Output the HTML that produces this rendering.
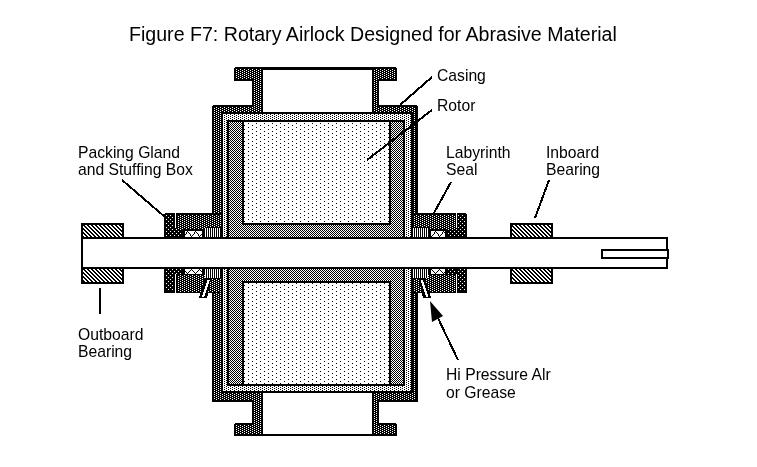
<!DOCTYPE html>
<html><head><meta charset="utf-8"><style>
html,body{margin:0;padding:0;background:#fff;width:757px;height:467px;overflow:hidden}
svg{display:block}
svg text{will-change:transform}
text{font-family:"Liberation Sans",sans-serif;fill:#000}
</style></head><body>
<svg width="757" height="467" viewBox="0 0 757 467" shape-rendering="crispEdges">
<defs>
<pattern id="dark" width="4" height="2" patternUnits="userSpaceOnUse"><rect width="4" height="2" fill="#000"/><rect x="0" y="1" width="1" height="1" fill="#fff"/><rect x="2" y="0" width="1" height="1" fill="#fff"/></pattern>
<pattern id="liner" width="4" height="2" patternUnits="userSpaceOnUse"><rect width="4" height="2" fill="#fff"/><rect x="0" y="1" width="1" height="1" fill="#000"/><rect x="2" y="0" width="1" height="1" fill="#000"/></pattern>
<pattern id="sparse" width="4" height="4" patternUnits="userSpaceOnUse"><rect width="4" height="4" fill="#000"/><rect x="2" y="3" width="1" height="1" fill="#fff"/><rect x="0" y="1" width="1" height="1" fill="#fff"/></pattern>
<pattern id="checker" width="2" height="2" patternUnits="userSpaceOnUse"><rect width="2" height="2" fill="#fff"/><rect x="0" y="0" width="1" height="1" fill="#000"/><rect x="1" y="1" width="1" height="1" fill="#000"/></pattern>
<pattern id="dots" width="8" height="4" patternUnits="userSpaceOnUse"><rect width="8" height="4" fill="#fff"/><rect x="0" y="3" width="1" height="1" fill="#000"/><rect x="4" y="1" width="1" height="1" fill="#000"/></pattern>
<pattern id="hatch" width="4" height="4" patternUnits="userSpaceOnUse"><rect width="4" height="4" fill="#000"/>
 <rect x="0" y="0" width="2" height="1" fill="#fff"/><rect x="1" y="1" width="2" height="1" fill="#fff"/><rect x="2" y="2" width="2" height="1" fill="#fff"/><rect x="3" y="3" width="1" height="1" fill="#fff"/><rect x="0" y="3" width="1" height="1" fill="#fff"/></pattern>
<pattern id="vlines" width="2" height="2" patternUnits="userSpaceOnUse"><rect width="2" height="2" fill="#000"/><rect x="1" y="0" width="1" height="2" fill="#fff"/></pattern>
</defs>
<rect width="757" height="467" fill="#fff"/>
<polygon points="234,67 397,67 397,81 379,81 379,105 418,105 418,402 379,402 379,423 397,423 397,436 234,436 234,423 252,423 252,402 212,402 212,105 252,105 252,81 234,81" fill="#000" /><polygon points="236,69 395,69 395,79 377,79 377,107 416,107 416,400 377,400 377,425 395,425 395,434 236,434 236,425 254,425 254,400 214,400 214,107 254,107 254,79 236,79" fill="url(#dark)" /><rect x="261" y="67" width="113" height="47" fill="#000"/><rect x="263" y="70" width="109" height="43" fill="#fff"/><rect x="261" y="391" width="113" height="45" fill="#000"/><rect x="263" y="392" width="109" height="42" fill="#fff"/><rect x="221" y="112" width="192" height="281" fill="#000"/><rect x="223" y="114" width="188" height="277" fill="url(#liner)"/><rect x="227" y="120" width="178" height="266" fill="#000"/><rect x="229" y="122" width="174" height="262" fill="url(#checker)"/><rect x="242" y="120" width="149" height="105" fill="#000"/><rect x="244" y="122" width="145" height="101" fill="url(#dots)"/><rect x="242" y="281" width="149" height="105" fill="#000"/><rect x="244" y="283" width="145" height="101" fill="url(#dots)"/><rect x="164" y="213" width="59" height="24" fill="#000"/><rect x="177" y="215" width="28" height="14" fill="url(#dark)"/><rect x="205" y="215" width="16" height="12" fill="url(#dark)"/><rect x="166" y="215" width="8" height="22" fill="url(#sparse)"/><rect x="174" y="229" width="8" height="8" fill="url(#sparse)"/><rect x="175" y="213" width="1" height="15" fill="#fff"/><rect x="185" y="231" width="17" height="6" fill="#fff"/><rect x="205" y="228" width="16" height="9" fill="url(#vlines)"/><rect x="164" y="269" width="59" height="24" fill="#000"/><rect x="177" y="275" width="28" height="17" fill="url(#dark)"/><rect x="205" y="279" width="16" height="13" fill="url(#dark)"/><rect x="166" y="269" width="8" height="22" fill="url(#sparse)"/><rect x="174" y="269" width="8" height="5" fill="url(#sparse)"/><rect x="175" y="274" width="1" height="19" fill="#fff"/><rect x="185" y="269" width="17" height="5" fill="#fff"/><rect x="205" y="269" width="16" height="9" fill="url(#vlines)"/><rect x="411" y="213" width="56" height="24" fill="#000"/><rect x="413" y="215" width="42" height="12" fill="url(#dark)"/><rect x="429" y="227" width="26" height="2" fill="url(#dark)"/><rect x="458" y="215" width="7" height="22" fill="url(#sparse)"/><rect x="447" y="229" width="11" height="8" fill="url(#sparse)"/><rect x="456" y="213" width="1" height="15" fill="#fff"/><rect x="431" y="231" width="14" height="6" fill="#fff"/><rect x="413" y="228" width="15" height="9" fill="url(#vlines)"/><rect x="411" y="269" width="56" height="24" fill="#000"/><rect x="426" y="275" width="29" height="17" fill="url(#dark)"/><rect x="413" y="279" width="15" height="13" fill="url(#dark)"/><rect x="458" y="269" width="7" height="22" fill="url(#sparse)"/><rect x="447" y="269" width="9" height="5" fill="url(#sparse)"/><rect x="456" y="274" width="1" height="19" fill="#fff"/><rect x="431" y="269" width="14" height="5" fill="#fff"/><rect x="413" y="269" width="15" height="9" fill="url(#vlines)"/><rect x="185" y="234" width="1" height="1" fill="#000"/><rect x="186" y="232" width="1" height="1" fill="#000"/><rect x="186" y="233" width="1" height="1" fill="#000"/><rect x="187" y="231" width="1" height="1" fill="#000"/><rect x="188" y="232" width="1" height="1" fill="#000"/><rect x="189" y="233" width="1" height="1" fill="#000"/><rect x="190" y="234" width="1" height="1" fill="#000"/><rect x="190" y="235" width="1" height="1" fill="#000"/><rect x="191" y="236" width="1" height="1" fill="#000"/><rect x="192" y="235" width="1" height="1" fill="#000"/><rect x="193" y="234" width="1" height="1" fill="#000"/><rect x="194" y="232" width="1" height="1" fill="#000"/><rect x="194" y="233" width="1" height="1" fill="#000"/><rect x="195" y="231" width="1" height="1" fill="#000"/><rect x="196" y="232" width="1" height="1" fill="#000"/><rect x="197" y="233" width="1" height="1" fill="#000"/><rect x="198" y="234" width="1" height="1" fill="#000"/><rect x="198" y="235" width="1" height="1" fill="#000"/><rect x="199" y="236" width="1" height="1" fill="#000"/><rect x="200" y="235" width="1" height="1" fill="#000"/><rect x="201" y="234" width="1" height="1" fill="#000"/><rect x="185" y="271" width="1" height="1" fill="#000"/><rect x="186" y="272" width="1" height="1" fill="#000"/><rect x="187" y="273" width="1" height="1" fill="#000"/><rect x="188" y="272" width="1" height="1" fill="#000"/><rect x="189" y="271" width="1" height="1" fill="#000"/><rect x="190" y="270" width="1" height="1" fill="#000"/><rect x="191" y="269" width="1" height="1" fill="#000"/><rect x="192" y="270" width="1" height="1" fill="#000"/><rect x="193" y="271" width="1" height="1" fill="#000"/><rect x="194" y="272" width="1" height="1" fill="#000"/><rect x="195" y="273" width="1" height="1" fill="#000"/><rect x="196" y="272" width="1" height="1" fill="#000"/><rect x="197" y="271" width="1" height="1" fill="#000"/><rect x="198" y="270" width="1" height="1" fill="#000"/><rect x="199" y="269" width="1" height="1" fill="#000"/><rect x="200" y="270" width="1" height="1" fill="#000"/><rect x="201" y="271" width="1" height="1" fill="#000"/><rect x="431" y="236" width="1" height="1" fill="#000"/><rect x="432" y="235" width="1" height="1" fill="#000"/><rect x="433" y="234" width="1" height="1" fill="#000"/><rect x="434" y="232" width="1" height="1" fill="#000"/><rect x="434" y="233" width="1" height="1" fill="#000"/><rect x="435" y="231" width="1" height="1" fill="#000"/><rect x="436" y="232" width="1" height="1" fill="#000"/><rect x="437" y="233" width="1" height="1" fill="#000"/><rect x="438" y="234" width="1" height="1" fill="#000"/><rect x="438" y="235" width="1" height="1" fill="#000"/><rect x="439" y="236" width="1" height="1" fill="#000"/><rect x="440" y="235" width="1" height="1" fill="#000"/><rect x="441" y="234" width="1" height="1" fill="#000"/><rect x="442" y="232" width="1" height="1" fill="#000"/><rect x="442" y="233" width="1" height="1" fill="#000"/><rect x="443" y="231" width="1" height="1" fill="#000"/><rect x="444" y="232" width="1" height="1" fill="#000"/><rect x="431" y="269" width="1" height="1" fill="#000"/><rect x="432" y="270" width="1" height="1" fill="#000"/><rect x="433" y="271" width="1" height="1" fill="#000"/><rect x="434" y="272" width="1" height="1" fill="#000"/><rect x="435" y="273" width="1" height="1" fill="#000"/><rect x="436" y="272" width="1" height="1" fill="#000"/><rect x="437" y="271" width="1" height="1" fill="#000"/><rect x="438" y="270" width="1" height="1" fill="#000"/><rect x="439" y="269" width="1" height="1" fill="#000"/><rect x="440" y="270" width="1" height="1" fill="#000"/><rect x="441" y="271" width="1" height="1" fill="#000"/><rect x="442" y="272" width="1" height="1" fill="#000"/><rect x="443" y="273" width="1" height="1" fill="#000"/><rect x="444" y="272" width="1" height="1" fill="#000"/><polygon points="204,279 211,279 207,298 199,298" fill="#000" /><polygon points="207.5,280 210,280 204.5,296.5 202,296.5" fill="#fff" /><polygon points="419,279 425,279 431,298 423,298" fill="#000" /><polygon points="420.5,280 423,280 428.5,296.5 426,296.5" fill="#fff" /><rect x="234" y="67" width="1" height="1" fill="#fff"/><rect x="396" y="67" width="1" height="1" fill="#fff"/><rect x="212" y="105" width="1" height="1" fill="#fff"/><rect x="417" y="105" width="1" height="1" fill="#fff"/><rect x="234" y="423" width="1" height="1" fill="#fff"/><rect x="396" y="423" width="1" height="1" fill="#fff"/><rect x="466" y="213" width="1" height="1" fill="#fff"/><rect x="164" y="213" width="1" height="1" fill="#fff"/><rect x="81" y="237" width="587" height="32" fill="#000"/><rect x="83" y="239" width="583" height="28" fill="#fff"/><rect x="601" y="249" width="68" height="10" fill="#000"/><rect x="603" y="251" width="64" height="6" fill="#fff"/><rect x="81" y="223" width="43" height="16" fill="#000"/><rect x="83" y="225" width="39" height="12" fill="url(#hatch)"/><rect x="81" y="267" width="43" height="17" fill="#000"/><rect x="83" y="269" width="39" height="13" fill="url(#hatch)"/><rect x="510" y="223" width="43" height="16" fill="#000"/><rect x="512" y="225" width="39" height="12" fill="url(#hatch)"/><rect x="510" y="267" width="43" height="17" fill="#000"/><rect x="512" y="269" width="39" height="13" fill="url(#hatch)"/><rect x="81" y="237" width="2" height="32" fill="#000"/><line x1="122" y1="180" x2="165" y2="217" stroke="#000" stroke-width="2" shape-rendering="crispEdges"/><line x1="400" y1="105" x2="432" y2="77" stroke="#000" stroke-width="2" shape-rendering="crispEdges"/><line x1="367" y1="160" x2="432" y2="110" stroke="#000" stroke-width="2" shape-rendering="crispEdges"/><line x1="451" y1="182" x2="434" y2="213" stroke="#000" stroke-width="2" shape-rendering="crispEdges"/><line x1="549" y1="180" x2="535" y2="218" stroke="#000" stroke-width="2" shape-rendering="crispEdges"/><rect x="99" y="288" width="2" height="26" fill="#000"/><line x1="458" y1="360" x2="437" y2="316" stroke="#000" stroke-width="2" shape-rendering="crispEdges"/><polygon points="430,301 432,322 443,316" fill="#000" shape-rendering="auto"/>
<text x="129" y="41" font-size="19.6">Figure F7: Rotary Airlock Designed for Abrasive Material</text><text x="78" y="158" font-size="15.7">Packing Gland</text><text x="78" y="175" font-size="15.7">and Stuffing Box</text><text x="437" y="81" font-size="15.7">Casing</text><text x="437" y="111" font-size="15.7">Rotor</text><text x="446" y="158" font-size="15.7">Labyrinth</text><text x="446" y="175" font-size="15.7">Seal</text><text x="546" y="158" font-size="15.7">Inboard</text><text x="546" y="175" font-size="15.7">Bearing</text><text x="78" y="340" font-size="15.7">Outboard</text><text x="78" y="357" font-size="15.7">Bearing</text><text x="446" y="380" font-size="15.7">Hi Pressure Alr</text><text x="446" y="398" font-size="15.7">or Grease</text>
</svg></body></html>
